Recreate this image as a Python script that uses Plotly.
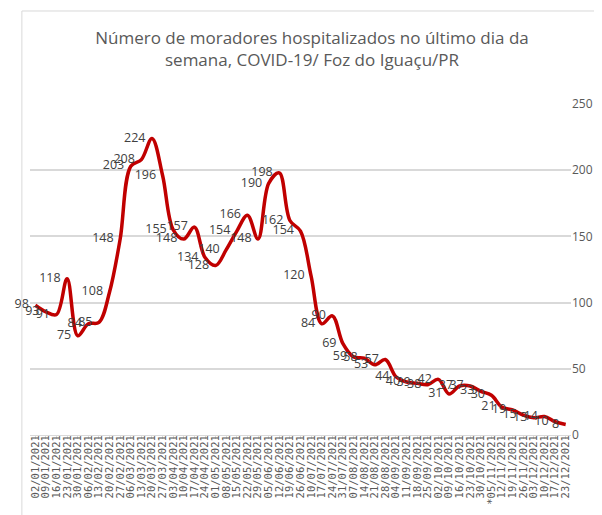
import plotly.graph_objects as go

datas = ["02/01/2021", "09/01/2021", "16/01/2021", "23/01/2021", "30/01/2021", "06/02/2021",
         "13/02/2021", "20/02/2021", "27/02/2021", "06/03/2021", "13/03/2021", "20/03/2021",
         "27/03/2021", "03/04/2021", "10/04/2021", "17/04/2021", "24/04/2021", "01/05/2021",
         "08/05/2021", "15/05/2021", "22/05/2021", "29/05/2021", "05/06/2021", "12/06/2021",
         "19/06/2021", "26/06/2021", "10/07/2021", "17/07/2021", "24/07/2021", "31/07/2021",
         "07/08/2021", "14/08/2021", "21/08/2021", "28/08/2021", "04/09/2021", "11/09/2021",
         "18/09/2021", "25/09/2021", "02/10/2021", "09/10/2021", "16/10/2021", "23/10/2021",
         "30/10/2021", "*05/11/2021", "12/11/2021", "19/11/2021", "26/11/2021", "03/12/2021",
         "10/12/2021", "17/12/2021", "23/12/2021"]

hospitalizados = [98, 93, 91, 118, 75, 84, 85, 108, 148, 203, 208, 224, 196, 155, 148, 157,
                  134, 128, 140, 154, 166, 148, 190, 198, 162, 154, 120, 84, 90, 69, 59, 58,
                  53, 57, 44, 40, 39, 38, 42, 31, 37, 37, 33, 30, 21, 19, 15, 13, 14, 10, 8]

# espaço extra pra afastar o rótulo do ponto (como no Excel)
rotulos = [str(v) + "\u00a0\u00a0" for v in hospitalizados]

fig = go.Figure()
fig.add_trace(go.Scatter(
    x=datas, y=hospitalizados, mode="lines+text",
    line=dict(color="#c00000", width=3.5, shape="spline", smoothing=1),
    text=rotulos, textposition="middle left",
    textfont=dict(family="Liberation Sans Narrow, Open Sans", size=12.5, color="#404040"),
    cliponaxis=False, showlegend=False))

fig.update_layout(
    width=602, height=515,
    margin=dict(l=22, r=39, t=96, b=88),
    paper_bgcolor="white", plot_bgcolor="white",
    title=dict(text="Número de moradores hospitalizados no último dia da<br>semana, COVID-19/ Foz do Iguaçu/PR",
               x=0.505, xanchor="center", y=0.93, yanchor="top",
               font=dict(family="Open Sans", size=17, color="#595959")),
    xaxis=dict(type="category", range=[-0.5, len(datas) - 0.5], automargin=False,
               tickangle=-90, showgrid=False,
               tickmode="linear", dtick=1, tick0=0,
               showline=True, linecolor="#d9d9d9", linewidth=1,
               ticks="outside", ticklen=3, tickcolor="#d9d9d9", ticklabelstandoff=-8,
               tickfont=dict(family="DejaVu Sans Mono", size=10.5, color="#595959")),
    yaxis=dict(side="right", range=[0, 250], dtick=50, automargin=False,
               showgrid=True, gridcolor="#d9d9d9",
               gridwidth=1.5, zeroline=False, showline=False, ticks="", ticklen=0,
               tickfont=dict(family="Liberation Sans Narrow, Open Sans", size=12, color="#595959")),
    shapes=[
        dict(type="line", xref="paper", yref="paper", x0=-0.015, x1=-0.015, y0=1.281, y1=-0.3,
             line=dict(color="#d9d9d9", width=1)),
        dict(type="line", xref="paper", yref="paper", x0=-0.015, x1=1.1, y0=1.281, y1=1.281,
             line=dict(color="#d9d9d9", width=1)),
    ],
)

fig.write_html("out.html")
